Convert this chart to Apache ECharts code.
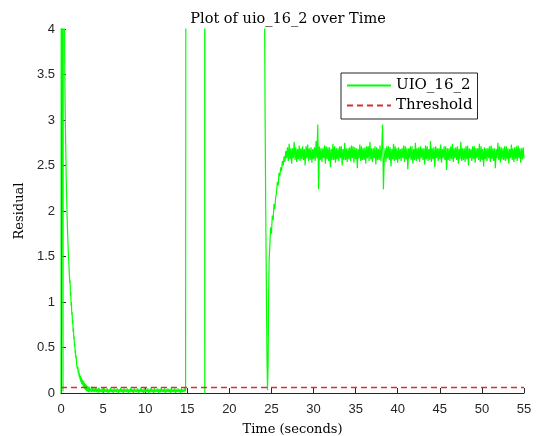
<!DOCTYPE html>
<html>
<head>
<meta charset="utf-8">
<script src="https://cdn.jsdelivr.net/npm/echarts@6/dist/echarts.min.js"></script>
<style>
html,body{margin:0;padding:0;background:#fff;}
#chart{width:540px;height:436px;}
</style>
</head>
<body>
<div id="chart"></div>
<script>
// ---- data ----
const xTicks = [0, 5, 10, 15, 20, 25, 30, 35, 40, 45, 50, 55];
const yTicks = [0, 0.5, 1, 1.5, 2, 2.5, 3, 3.5, 4];

// start-up transient (time, residual)
const startTimes = [0,0.05,0.18,0.24,0.30,0.40,0.44,0.48,0.52,0.57,0.62,0.68,
0.72,0.76,0.80,0.84,0.88,0.92,0.96,1.00,1.04,1.08,1.12,1.16,1.20,1.24,1.28,1.32,1.36,1.40,1.44,1.48,1.52,1.56,1.60,1.64,1.68,1.72,1.76,1.80,
1.85,1.90,1.95,2.00,2.05,2.10,2.15,2.20,2.25,2.30,2.35,2.40,2.45,2.50,2.55,2.60,2.65,2.70,2.75,2.80,2.85,2.90,2.95,3.00,3.05,3.10,3.15,3.20,3.25,3.30,3.35,3.40];
const startValues = [0,9,9,0.02,9,9,3.7,3.25,2.95,2.65,2.35,2.12,
1.95,1.93,1.72,1.73,1.52,1.54,1.37,1.39,1.21,1.24,1.07,1.11,0.96,1.00,0.86,0.89,0.76,0.80,0.67,0.71,0.59,0.62,0.51,0.54,0.44,0.47,0.38,0.41,
0.32,0.34,0.26,0.29,0.22,0.25,0.18,0.22,0.15,0.19,0.12,0.17,0.10,0.15,0.09,0.14,0.07,0.13,0.06,0.11,0.04,0.10,0.03,0.09,0.02,0.08,0.02,0.07,0.01,0.07,0.01,0.06];

// low residual band, sampled every 0.1 s from 3.5 s
const lowStart = 3.5, lowStep = 0.1;
const lowValues = [
0.06,0.01,0.07,0.01,0.05,0.01,0.06,0.01,0.05,0.00,0.06,0.01,0.04,0.01,0.05,0.00,0.06,0.01,0.04,0.01,
0.05,0.00,0.04,0.01,0.06,0.01,0.04,0.00,0.05,0.01,0.04,0.01,0.05,0.00,0.04,0.01,0.06,0.01,0.04,0.00,
0.05,0.01,0.04,0.01,0.05,0.00,0.04,0.01,0.06,0.01,0.04,0.00,0.05,0.01,0.04,0.01,0.05,0.00,0.04,0.01,
0.06,0.01,0.04,0.00,0.05,0.01,0.04,0.01,0.05,0.00,0.04,0.01,0.06,0.01,0.04,0.00,0.05,0.01,0.04,0.01,
0.05,0.00,0.04,0.01,0.06,0.01,0.04,0.01,0.05,0.00,0.04,0.01,0.05,0.01,0.04,0.00,0.06,0.01,0.04,0.01,
0.05,0.00,0.04,0.01,0.05,0.01,0.04,0.00,0.05,0.01,0.04,0.01,0.05,0.02];

// fault interval and recovery (time, residual)
const midTimes = [14.82,14.86,17.06,17.08,17.10,24.10,24.18,24.25,24.32,24.40,24.47,24.53,24.60,24.66,24.72,24.80,24.90,25.00,25.10,25.20,25.30,25.40,25.50,25.60,25.70,25.80,25.90,26.00,26.10,26.20,26.30,26.40,26.50,26.60,26.70];
const midValues = [0.02,9,9,-1,9,9,4.2,3.0,2.0,1.1,0.4,0.03,0.3,1.0,1.45,1.6,1.82,1.75,1.95,1.9,2.08,2.02,2.15,2.2,2.32,2.28,2.42,2.38,2.48,2.44,2.55,2.5,2.6,2.54,2.66];

// steady-state band, sampled every 0.1 s from 26.8 s
const steadyStart = 26.8, steadyStep = 0.1;
const steadyValues = [
2.58,2.70,2.55,2.74,2.57,2.69,2.52,2.69,2.58,2.76,2.56,2.70,2.54,2.68,2.57,2.72,2.55,2.69,2.57,2.71,
2.56,2.68,2.50,2.71,2.58,2.73,2.55,2.69,2.56,2.70,2.53,2.68,2.57,2.70,2.55,2.77,2.58,2.95,2.24,2.71,
2.56,2.69,2.54,2.69,2.58,2.72,2.52,2.71,2.57,2.70,2.55,2.70,2.48,2.68,2.56,2.74,2.56,2.71,2.53,2.69,
2.57,2.69,2.55,2.71,2.58,2.71,2.50,2.68,2.56,2.75,2.56,2.69,2.54,2.69,2.57,2.70,2.55,2.72,2.58,2.71,
2.53,2.70,2.57,2.69,2.47,2.68,2.58,2.73,2.55,2.71,2.56,2.69,2.56,2.70,2.52,2.71,2.58,2.71,2.55,2.76,
2.57,2.69,2.54,2.69,2.58,2.71,2.51,2.70,2.56,2.68,2.56,2.72,2.55,2.69,2.95,2.24,2.57,2.69,2.54,2.71,
2.58,2.71,2.56,2.70,2.49,2.68,2.57,2.74,2.55,2.71,2.56,2.69,2.53,2.70,2.57,2.68,2.55,2.69,2.58,2.72,
2.54,2.71,2.57,2.69,2.46,2.69,2.58,2.71,2.56,2.71,2.52,2.68,2.56,2.75,2.55,2.69,2.57,2.70,2.54,2.71,
2.58,2.69,2.56,2.69,2.51,2.72,2.57,2.71,2.55,2.68,2.56,2.77,2.54,2.69,2.57,2.70,2.48,2.71,2.58,2.69,
2.55,2.69,2.57,2.73,2.53,2.68,2.58,2.71,2.56,2.71,2.45,2.69,2.56,2.69,2.55,2.71,2.57,2.74,2.54,2.69,
2.58,2.70,2.56,2.71,2.52,2.68,2.57,2.76,2.55,2.69,2.56,2.69,2.54,2.71,2.57,2.72,2.50,2.69,2.58,2.68,
2.55,2.71,2.57,2.71,2.53,2.69,2.58,2.69,2.56,2.74,2.54,2.71,2.56,2.68,2.49,2.70,2.57,2.69,2.55,2.69,
2.58,2.71,2.54,2.72,2.57,2.69,2.55,2.69,2.47,2.68,2.58,2.75,2.56,2.71,2.53,2.70,2.57,2.69,2.56,2.71,
2.55,2.71,2.57,2.69,2.52,2.68,2.58,2.73,2.56,2.69,2.54,2.70,2.57,2.71,2.55,2.72,2.58,2.69,2.53,2.69,
2.57,2.70,2.58];

const thresholdTimes = [0, 55];
const thresholdValue = 0.06;

const seriesNames = ['UIO_16_2', 'Threshold'];

// ---- build the library's data table ----
const uioData = [];
startTimes.forEach((t, i) => uioData.push([t, startValues[i]]));
lowValues.forEach((v, i) => uioData.push([+(lowStart + i * lowStep).toFixed(2), v]));
midTimes.forEach((t, i) => uioData.push([t, midValues[i]]));
steadyValues.forEach((v, i) => uioData.push([+(steadyStart + i * steadyStep).toFixed(2), v]));
const thrData = thresholdTimes.map(t => [t, thresholdValue]);

const axisColor = '#262626';
const serif = "'DejaVu Serif', serif";
const sans = "'Liberation Sans', Arial, sans-serif";

const chart = echarts.init(document.getElementById('chart'), null, {renderer: 'canvas'});
chart.setOption({
  animation: false,
  backgroundColor: '#ffffff',
  title: {
    text: 'Plot of uio_16_2 over Time',
    left: 283, top: 7, textAlign: 'center',
    textStyle: {fontFamily: serif, fontSize: 14.5, fontWeight: 'normal', color: '#000'}
  },
  legend: {
    orient: 'vertical',
    left: 341, top: 73,
    itemWidth: 44, itemHeight: 10, itemGap: 5,
    padding: [5, 5, 6, 5],
    itemStyle: {opacity: 0},
    borderColor: axisColor, borderWidth: 1, backgroundColor: '#fff',
    textStyle: {fontFamily: serif, fontSize: 15, color: '#000'},
    data: seriesNames
  },
  grid: {left: 61, right: 16, top: 29, bottom: 43, containLabel: false, outerBoundsMode: 'none'},
  xAxis: {
    type: 'value', min: xTicks[0], max: xTicks[xTicks.length - 1], interval: 5,
    name: 'Time (seconds)', nameLocation: 'middle', nameGap: 30,
    nameTextStyle: {fontFamily: serif, fontSize: 13, color: '#000'},
    axisLine: {show: true, lineStyle: {color: axisColor, width: 1}},
    axisTick: {show: true, inside: true, length: 5, lineStyle: {color: axisColor}},
    axisLabel: {fontFamily: sans, fontSize: 13, color: axisColor, margin: 10},
    splitLine: {show: false}
  },
  yAxis: {
    type: 'value', min: yTicks[0], max: yTicks[yTicks.length - 1], interval: 0.5,
    name: 'Residual', nameLocation: 'middle', nameGap: 32, nameRotate: 90,
    nameTextStyle: {fontFamily: serif, fontSize: 13, color: '#000'},
    axisLine: {show: true, lineStyle: {color: axisColor, width: 1}},
    axisTick: {show: true, inside: true, length: 5, lineStyle: {color: axisColor}},
    axisLabel: {fontFamily: sans, fontSize: 13, color: axisColor, margin: 6},
    splitLine: {show: false}
  },
  series: [
    {
      name: seriesNames[0], type: 'line', data: uioData,
      symbol: 'none', showSymbol: false, sampling: null, clip: true,
      lineStyle: {color: '#00ff00', width: 1.2},
      itemStyle: {color: '#00ff00'}
    },
    {
      name: seriesNames[1], type: 'line', data: thrData,
      symbol: 'none', showSymbol: false, clip: true, z: 3,
      lineStyle: {color: '#d83030', width: 1.5, type: [6, 4]},
      itemStyle: {color: '#d83030'}
    }
  ]
});
</script>
</body>
</html>
